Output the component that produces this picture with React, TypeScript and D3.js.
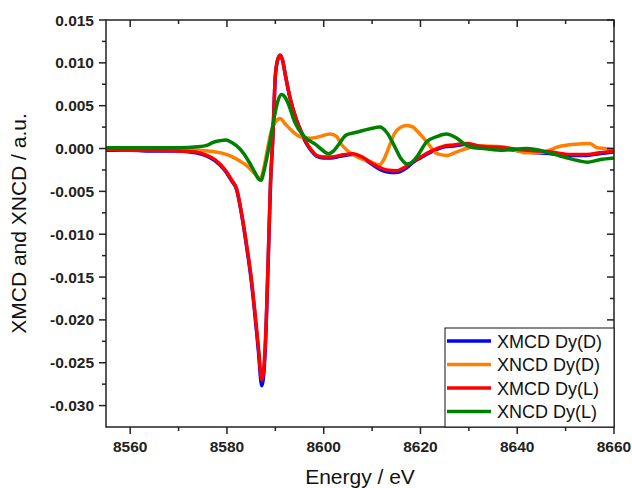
import React from "react";
import * as d3 from "d3";

type P = [number, number];

const xmcdD: P[] = [
  [8555, -0.0002], [8560, -0.0002], [8565, -0.0003], [8570, -0.0003], [8573.5, -0.0005],
  [8575.5, -0.0008], [8577.5, -0.0014], [8579.5, -0.0025], [8581, -0.0038], [8582, -0.0048],
  [8583, -0.0076], [8584, -0.0112], [8585, -0.0153], [8585.8, -0.0195], [8586.5, -0.0236],
  [8587.2, -0.0277], [8587.9, -0.0236], [8588.5, -0.0136], [8589, -0.0042], [8589.5, 0.0014],
  [8590, 0.0084], [8590.5, 0.0104], [8591, 0.0109], [8591.5, 0.0103], [8592, 0.0088],
  [8593, 0.0060], [8594.4, 0.0033], [8595.5, 0.0017], [8596.5, 0.0005], [8597.5, -0.0003],
  [8598.5, -0.0009], [8600, -0.0011], [8601.5, -0.0011], [8603.4, -0.0009], [8606, -0.0007],
  [8608, -0.0011], [8609.6, -0.0017], [8611.5, -0.0024], [8613, -0.0027], [8615, -0.0028],
  [8617, -0.0023], [8618.5, -0.0016], [8620, -0.0011], [8621.5, -0.0006], [8623.4, -0.0001],
  [8625, 0.0002], [8626.8, 0.0003], [8629.6, 0.0005], [8632, 0.0002], [8637, 0.0000],
  [8642, -0.0004], [8647, -0.0006], [8651, -0.0008], [8654.4, -0.0008], [8657, -0.0006],
  [8660, -0.0004],
];

const xncdD: P[] = [
  [8555, 0.0000], [8560, -0.0001], [8565, -0.0001], [8570, -0.0001], [8574, -0.0002],
  [8577.7, -0.0004], [8580, -0.0007], [8581.2, -0.0010], [8582.5, -0.0014], [8583.9, -0.0019],
  [8585, -0.0025], [8586, -0.0031], [8586.9, -0.0035], [8587.5, -0.0026], [8588.2, -0.0006],
  [8589.2, 0.0021], [8590, 0.0031], [8591, 0.0035], [8592, 0.0029], [8593, 0.0023],
  [8595, 0.0014], [8597.2, 0.0012], [8599.2, 0.0014], [8601.3, 0.0017], [8602.7, 0.0014],
  [8603.5, 0.0006], [8604.8, -0.0002], [8607, -0.0010], [8609.5, -0.0015], [8611.5, -0.0019],
  [8612.5, -0.0012], [8613.5, 0.0002], [8614.7, 0.0018], [8615.7, 0.0024], [8617.1, 0.0027],
  [8618.5, 0.0025], [8619.2, 0.0021], [8621.3, 0.0008], [8623.4, -0.0006], [8625.4, -0.0008],
  [8627.5, -0.0004], [8629.5, 0.0000], [8632, 0.0003], [8637, 0.0002], [8642, -0.0005],
  [8645.5, -0.0004], [8648.5, 0.0002], [8652, 0.0005], [8655, 0.0006], [8656.5, 0.0001],
  [8658, 0.0000], [8660, -0.0001],
];

const xmcdL: P[] = [
  [8555, -0.0001], [8560, -0.0002], [8565, -0.0002], [8570, -0.0003], [8573.5, -0.0004],
  [8575.5, -0.0007], [8577.5, -0.0013], [8579.5, -0.0024], [8581, -0.0037], [8582, -0.0047],
  [8583, -0.0075], [8584, -0.0110], [8585, -0.0150], [8585.8, -0.0192], [8586.5, -0.0232],
  [8587.2, -0.0270], [8587.9, -0.0232], [8588.5, -0.0134], [8589, -0.0040], [8589.5, 0.0015],
  [8590, 0.0085], [8590.5, 0.0104], [8591, 0.0109], [8591.5, 0.0103], [8592, 0.0088],
  [8593, 0.0060], [8594.4, 0.0033], [8595.5, 0.0018], [8596.5, 0.0006], [8597.5, -0.0002],
  [8598.5, -0.0008], [8600, -0.0010], [8601.5, -0.0010], [8603.4, -0.0008], [8606, -0.0006],
  [8608, -0.0010], [8609.6, -0.0016], [8611.5, -0.0022], [8613, -0.0025], [8615, -0.0026],
  [8617, -0.0021], [8618.5, -0.0015], [8620, -0.0010], [8621.5, -0.0005], [8623.4, 0.0000],
  [8625, 0.0003], [8626.8, 0.0004], [8629.6, 0.0006], [8632, 0.0003], [8637, 0.0001],
  [8642, -0.0002], [8647, -0.0004], [8651, -0.0007], [8654.4, -0.0007], [8657, -0.0005],
  [8660, -0.0003],
];

const xncdL: P[] = [
  [8555, 0.0001], [8560, 0.0001], [8565, 0.0001], [8570, 0.0001], [8574, 0.0002],
  [8576, 0.0004], [8577, 0.0007], [8578.5, 0.0009], [8579.8, 0.0010], [8581, 0.0007],
  [8582.6, 0.0000], [8583.6, -0.0007], [8584.6, -0.0016], [8585.6, -0.0026], [8586.6, -0.0036],
  [8587.1, -0.0037], [8587.5, -0.0030], [8588.2, -0.0012], [8588.9, 0.0008], [8589.9, 0.0040],
  [8590.5, 0.0055], [8591.3, 0.0063], [8592, 0.0060], [8592.7, 0.0052], [8594, 0.0031],
  [8596, 0.0014], [8598.5, 0.0004], [8600.5, -0.0005], [8601, -0.0006], [8602, -0.0003],
  [8603, 0.0004], [8604.7, 0.0016], [8606.8, 0.0019], [8609.6, 0.0023], [8611.6, 0.0025],
  [8613, 0.0019], [8614.7, 0.0002], [8616, -0.0012], [8617.2, -0.0018], [8618, -0.0017],
  [8619.2, -0.0010], [8621.3, 0.0008], [8623.4, 0.0014], [8625.4, 0.0017], [8627.5, 0.0012],
  [8629.5, 0.0004], [8631, 0.0001], [8633, 0.0000], [8637, -0.0002], [8642, 0.0000],
  [8646, -0.0004], [8649, -0.0009], [8652.5, -0.0014], [8654.5, -0.0016], [8657, -0.0013],
  [8660, -0.0011],
];

const xTicks = [8560, 8580, 8600, 8620, 8640, 8660];
const yTicks = [0.015, 0.01, 0.005, 0, -0.005, -0.01, -0.015, -0.02, -0.025, -0.03];
const seriesNames = ["XMCD Dy(D)", "XNCD Dy(D)", "XMCD Dy(L)", "XNCD Dy(L)"];
const seriesColors = ["#0000ff", "#ff8000", "#ff0000", "#008000"];
const seriesData = [xmcdD, xncdD, xmcdL, xncdL];

const W = 632, H = 488;
const L = 106, R = 614, T = 20, B = 427;
const FONT = "'Liberation Sans', Arial, Helvetica, sans-serif";

export default function App() {
  const x = d3.scaleLinear().domain([8555, 8660]).range([L, R]);
  const y = d3.scaleLinear().domain([-0.0325, 0.015]).range([B, T]);
  const line = d3.line<P>().x(d => x(d[0])).y(d => y(d[1])).curve(d3.curveMonotoneX);

  const xMinor = d3.range(8560, 8661, 10).filter(v => !xTicks.includes(v));
  const yMinor = d3.range(-0.0325, 0.0151, 0.0025).map(v => +v.toFixed(4)).filter(v => !yTicks.some(t => Math.abs(t - v) < 1e-9) && v > -0.0325 && v < 0.015);
  const axisColor = "#222";

  const fmt = (v: number) => (v < 0 ? "-" : "") + Math.abs(v).toFixed(3);

  return (
    <svg width={W} height={H} style={{ position: "absolute", left: 0, top: 0, background: "#fff" }} fontFamily={FONT}>
      <rect x={0} y={0} width={W} height={H} fill="#fff" />
      <defs>
        <clipPath id="plotclip">
          <rect x={L} y={T} width={R - L} height={B - T} />
        </clipPath>
      </defs>
      <g clipPath="url(#plotclip)">
        {[0, 1, 2, 3].map(i => (
          <path key={i} d={line(seriesData[i]) || ""} fill="none" stroke={seriesColors[i]} strokeWidth={3.5} strokeLinejoin="round" strokeLinecap="round" />
        ))}
      </g>
      {/* frame */}
      <rect x={L} y={T} width={R - L} height={B - T} fill="none" stroke={axisColor} strokeWidth={1.5} />
      {/* x ticks */}
      {xTicks.map(v => (
        <g key={"xt" + v}>
          <line x1={x(v)} x2={x(v)} y1={B} y2={B + 7} stroke={axisColor} strokeWidth={1.5} />
          <line x1={x(v)} x2={x(v)} y1={T} y2={T + 7} stroke={axisColor} strokeWidth={1.5} />
          <text x={x(v)} y={452} textAnchor="middle" fontSize={15.5} fontWeight="bold" fill="#222">{v}</text>
        </g>
      ))}
      {xMinor.map(v => (
        <g key={"xm" + v}>
          <line x1={x(v)} x2={x(v)} y1={B} y2={B + 4} stroke={axisColor} strokeWidth={1.5} />
          <line x1={x(v)} x2={x(v)} y1={T} y2={T + 4} stroke={axisColor} strokeWidth={1.5} />
        </g>
      ))}
      {/* y ticks */}
      {yTicks.map(v => (
        <g key={"yt" + v}>
          <line x1={L - 7} x2={L} y1={y(v)} y2={y(v)} stroke={axisColor} strokeWidth={1.5} />
          <line x1={R - 7} x2={R} y1={y(v)} y2={y(v)} stroke={axisColor} strokeWidth={1.5} />
          <text x={94} y={y(v) + 5.5} textAnchor="end" fontSize={15.5} fontWeight="bold" fill="#222">{fmt(v)}</text>
        </g>
      ))}
      {yMinor.map(v => (
        <g key={"ym" + v}>
          <line x1={L - 4} x2={L} y1={y(v)} y2={y(v)} stroke={axisColor} strokeWidth={1.5} />
          <line x1={R - 4} x2={R} y1={y(v)} y2={y(v)} stroke={axisColor} strokeWidth={1.5} />
        </g>
      ))}
      {/* axis titles */}
      <text x={(L + R) / 2} y={484} textAnchor="middle" fontSize={21} fill="#111">Energy / eV</text>
      <text transform={`translate(26, ${(T + B) / 2}) rotate(-90)`} textAnchor="middle" fontSize={21} fill="#111">XMCD and XNCD / a.u.</text>
      {/* legend */}
      <rect x={445} y={328} width={R - 445} height={B - 328} fill="#fff" stroke="#111" strokeWidth={1} />
      {seriesNames.map((n, i) => {
        const cy = 341 + i * 23.5;
        return (
          <g key={n}>
            <line x1={447} x2={491} y1={cy} y2={cy} stroke={seriesColors[i]} strokeWidth={3.5} />
            <text x={497} y={cy + 6.5} fontSize={18} fill="#111">{n}</text>
          </g>
        );
      })}
    </svg>
  );
}
